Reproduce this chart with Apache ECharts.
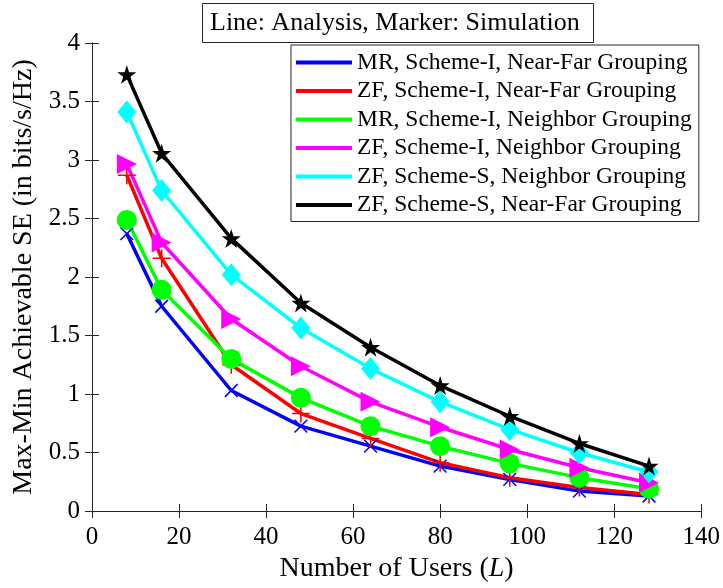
<!DOCTYPE html>
<html>
<head>
<meta charset="utf-8">
<script src="https://cdn.jsdelivr.net/npm/echarts@6/dist/echarts.min.js"></script>
<style>
  html, body { margin: 0; padding: 0; background: #fff; }
  #chart { width: 723px; height: 588px; }
</style>
</head>
<body>
<div id="chart"></div>
<script>
// Number of users L
const users = [8, 16, 32, 48, 64, 80, 96, 112, 128];

// Max-min achievable SE (bits/s/Hz)
const mrSchemeINearFar   = [2.37, 1.75, 1.03, 0.725, 0.554, 0.384, 0.27, 0.17, 0.128];
const zfSchemeINearFar   = [2.87, 2.16, 1.25, 0.833, 0.62, 0.413, 0.285, 0.2, 0.142];
const mrSchemeINeighbor  = [2.488, 1.89, 1.30, 0.967, 0.725, 0.554, 0.407, 0.285, 0.19];
const zfSchemeINeighbor  = [2.965, 2.295, 1.641, 1.237, 0.933, 0.716, 0.526, 0.37, 0.242];
const zfSchemeSNeighbor  = [3.41, 2.74, 2.02, 1.564, 1.217, 0.933, 0.697, 0.498, 0.333];
const zfSchemeSNearFar   = [3.73, 3.057, 2.33, 1.777, 1.40, 1.072, 0.81, 0.577, 0.384];

const seriesNames = [
  'MR, Scheme-I, Near-Far Grouping',
  'ZF, Scheme-I, Near-Far Grouping',
  'MR, Scheme-I, Neighbor Grouping',
  'ZF, Scheme-I, Neighbor Grouping',
  'ZF, Scheme-S, Neighbor Grouping',
  'ZF, Scheme-S, Near-Far Grouping'
];
const seriesValues = [mrSchemeINearFar, zfSchemeINearFar, mrSchemeINeighbor,
                      zfSchemeINeighbor, zfSchemeSNeighbor, zfSchemeSNearFar];
const colors = ['#0000ff', '#ff0000', '#00ff00', '#ff00ff', '#00ffff', '#000000'];

const xTicks = { min: 0, max: 140, step: 20 };
const yTicks = { min: 0, max: 4, step: 0.5 };

// thin plus-shaped marker drawn as a filled path
const plusPath = 'path://M0,6.4H14V7.6H0Z M6.4,0H7.6V14H6.4Z';
const starPath = 'path://M50,0 L61.8,36.3 L100,36.3 L69.1,58.8 L80.9,95.1 L50,72.7 L19.1,95.1 L30.9,58.8 L0,36.3 L38.2,36.3 Z';
const markers = [
  { symbol: plusPath, size: 18, rotate: 45 },
  { symbol: plusPath, size: 18, rotate: 0 },
  { symbol: 'circle', size: 20, rotate: 0 },
  { symbol: 'triangle', size: 20, rotate: -90 },
  { symbol: 'diamond', size: [19, 23], rotate: 0 },
  { symbol: starPath, size: 19, rotate: 0 }
];

const SERIF = 'Liberation Serif';
const AXIS_COLOR = '#262626';

const pairs = v => users.map((x, i) => [x, v[i]]);

const lineSeries = seriesNames.map((name, k) => ({
  name: name,
  type: 'line',
  data: pairs(seriesValues[k]),
  symbol: 'none',
  lineStyle: { color: colors[k], width: 3.5 },
  itemStyle: { color: colors[k] },
  z: 2,
  animation: false
}));

const markerSeries = seriesNames.map((name, k) => ({
  name: name + ' (sim)',
  type: 'scatter',
  data: pairs(seriesValues[k]),
  symbol: markers[k].symbol,
  symbolSize: markers[k].size,
  symbolRotate: markers[k].rotate,
  itemStyle: { color: colors[k], opacity: 1 },
  z: 3,
  animation: false
}));

const chart = echarts.init(document.getElementById('chart'), null, { renderer: 'canvas' });

const baseAxis = {
  axisLine: { show: true, lineStyle: { color: AXIS_COLOR, width: 1 } },
  axisTick: { show: true, inside: true, length: 7, lineStyle: { color: AXIS_COLOR } },
  splitLine: { show: false }
};

chart.setOption({
  backgroundColor: '#fff',
  animation: false,
  textStyle: { fontFamily: SERIF },
  grid: { left: 92, right: 21, top: 43, bottom: 76 },
  title: {
    text: 'Line: Analysis, Marker: Simulation',
    left: 202,
    top: 3,
    padding: [7, 14, 7, 8],
    borderColor: AXIS_COLOR,
    borderWidth: 1,
    backgroundColor: '#fff',
    textStyle: { fontFamily: SERIF, fontSize: 26, lineHeight: 26, fontWeight: 'normal', color: '#000' }
  },
  legend: {
    data: seriesNames,
    orient: 'vertical',
    left: 291,
    top: 45,
    padding: [5.5, 7, 4.5, 5],
    itemGap: 4.5,
    itemWidth: 56,
    itemHeight: 4,
    itemTextGap: 4,
    icon: 'rect',
    backgroundColor: '#fff',
    borderColor: AXIS_COLOR,
    borderWidth: 1,
    textStyle: { fontFamily: SERIF, fontSize: 23.5, lineHeight: 24, color: '#000' }
  },
  xAxis: [
    Object.assign({}, baseAxis, {
      type: 'value',
      min: xTicks.min, max: xTicks.max, interval: xTicks.step,
      position: 'bottom',
      axisLabel: { fontFamily: SERIF, fontSize: 25, color: '#000', margin: 14 },
      name: 'Number of Users ({i|L})',
      nameLocation: 'middle',
      nameGap: 44,
      nameTextStyle: {
        fontFamily: SERIF, fontSize: 28, color: '#000',
        rich: { i: { fontFamily: SERIF, fontSize: 28, fontStyle: 'italic', color: '#000' } }
      }
    }),
    Object.assign({}, baseAxis, {
      type: 'value',
      min: xTicks.min, max: xTicks.max, interval: xTicks.step,
      position: 'top',
      axisLabel: { show: false }
    })
  ],
  yAxis: [
    Object.assign({}, baseAxis, {
      type: 'value',
      min: yTicks.min, max: yTicks.max, interval: yTicks.step,
      position: 'left',
      axisLabel: { fontFamily: SERIF, fontSize: 25, color: '#000', margin: 12 },
      name: 'Max-Min Achievable SE (in bits/s/Hz)',
      nameLocation: 'middle',
      nameGap: 52,
      nameTextStyle: { fontFamily: SERIF, fontSize: 28, color: '#000' }
    }),
    Object.assign({}, baseAxis, {
      type: 'value',
      min: yTicks.min, max: yTicks.max, interval: yTicks.step,
      position: 'right',
      axisLabel: { show: false }
    })
  ],
  series: lineSeries.concat(markerSeries)
});
</script>
</body>
</html>
